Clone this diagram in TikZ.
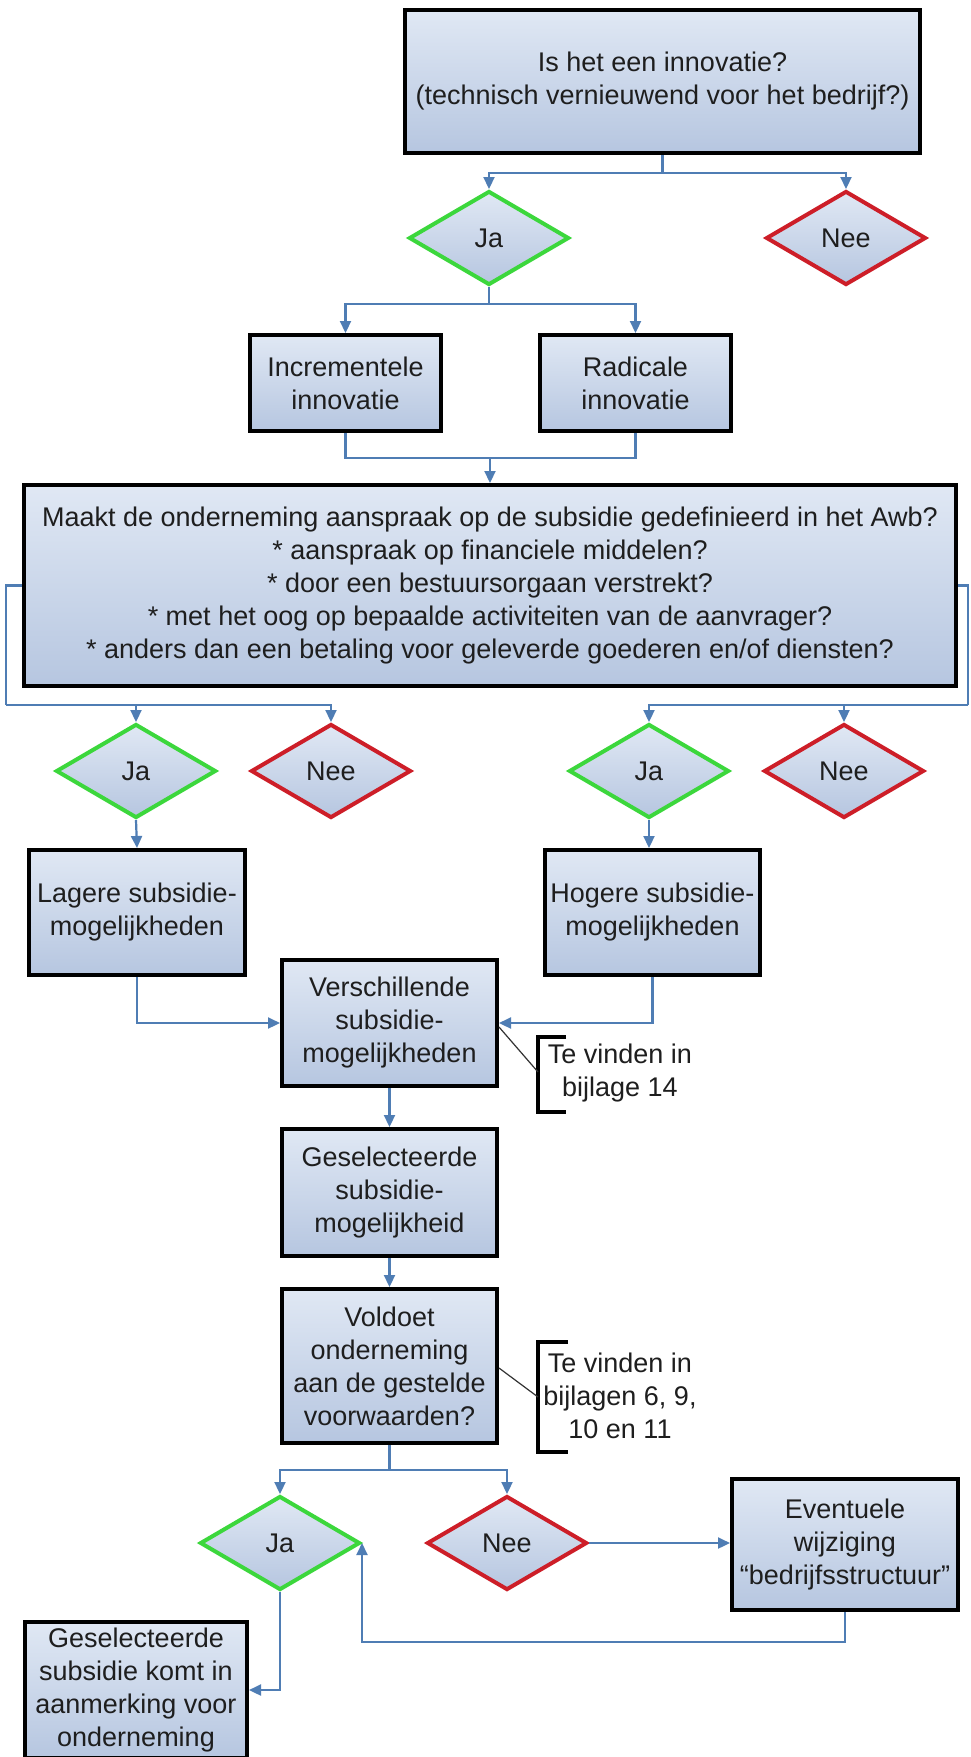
\documentclass[tikz,border=0pt]{standalone}
\usepackage{fontspec}
\setmainfont{Liberation Sans}
\usetikzlibrary{shapes.geometric,arrows.meta,calc}
\definecolor{conn}{RGB}{79,125,180}
\definecolor{boxtop}{RGB}{224,232,244}
\definecolor{boxbot}{RGB}{182,198,224}
\definecolor{jagreen}{RGB}{60,215,60}
\definecolor{neered}{RGB}{205,30,40}
\definecolor{txt}{RGB}{30,30,30}
\begin{document}
\begin{tikzpicture}[x=1pt,y=-1pt,
  every node/.style={font=\fontsize{27}{33}\selectfont, text=txt},
  box/.style={rectangle, draw=black, line width=4pt, top color=boxtop, bottom color=boxbot, align=center, inner sep=0pt},
  dia/.style={diamond, line width=4pt, top color=boxtop, bottom color=boxbot, inner sep=0pt, minimum width=160pt, minimum height=94pt},
  jadia/.style={dia, draw=jagreen},
  needia/.style={dia, draw=neered},
  conn/.style={draw=conn, line width=2.2pt},
  arr/.style={conn, -{Triangle[length=12pt,width=11pt]}},
  note/.style={align=center, inner sep=0pt},
  brk/.style={draw=black, line width=4pt},
  lead/.style={draw=black!80, line width=1.2pt}
]
\fill[white] (0,0) rectangle (970,1757);
\useasboundingbox (0,0) rectangle (970,1757);

% nodes
\node[box, minimum width=515pt, minimum height=143pt] (q1) at (662.5,81.5) {Is het een innovatie?\\(technisch vernieuwend voor het bedrijf?)};
\node[jadia] (ja1) at (489,238) {Ja};
\node[needia] (nee1) at (846,238) {Nee};
\node[box, minimum width=191pt, minimum height=96pt] (inc) at (345.5,383) {Incrementele\\innovatie};
\node[box, minimum width=191pt, minimum height=96pt] (rad) at (635.5,383) {Radicale\\innovatie};
\node[box, minimum width=932pt, minimum height=201pt] (awb) at (490,585.5) {Maakt de onderneming aanspraak op de subsidie gedefinieerd in het Awb?\\* aanspraak op financiele middelen?\\* door een bestuursorgaan verstrekt?\\* met het oog op bepaalde activiteiten van de aanvrager?\\* anders dan een betaling voor geleverde goederen en/of diensten?};
\node[jadia] (ja2) at (136,771) {Ja};
\node[needia] (nee2) at (331,771) {Nee};
\node[jadia] (ja3) at (649,771) {Ja};
\node[needia] (nee3) at (844,771) {Nee};
\node[box, minimum width=216pt, minimum height=125pt] (lag) at (137,912.5) {Lagere subsidie-\\mogelijkheden};
\node[box, minimum width=215pt, minimum height=125pt] (hog) at (652.5,912.5) {Hogere subsidie-\\mogelijkheden};
\node[box, minimum width=215pt, minimum height=126pt] (ver) at (389.5,1023) {Verschillende\\subsidie-\\mogelijkheden};
\node[box, minimum width=215pt, minimum height=127pt] (gesel) at (389.5,1192.5) {Geselecteerde\\subsidie-\\mogelijkheid};
\node[box, minimum width=215pt, minimum height=154pt] (vold) at (389.5,1366) {Voldoet\\onderneming\\aan de gestelde\\voorwaarden?};
\node[jadia] (ja4) at (280,1543) {Ja};
\node[needia] (nee4) at (507,1543) {Nee};
\node[box, minimum width=226pt, minimum height=131pt] (eve) at (845,1544.5) {Eventuele\\wijziging\\“bedrijfsstructuur”};
\node[box, minimum width=222pt, minimum height=136pt] (fin) at (136,1690) {Geselecteerde\\subsidie komt in\\aanmerking voor\\onderneming};

% notes
\node[note] (n1) at (620,1073) {Te vinden in\\bijlage 14};
\node[note] (n2) at (620,1396) {Te vinden in\\bijlagen 6, 9,\\10 en 11};
\coordinate (b1) at (538,1072);
\coordinate (b2) at (538,1397);
\draw[brk] (566,1037) -- (538,1037) -- (538,1112) -- (566,1112);
\draw[brk] (568,1342) -- (538,1342) -- (538,1452) -- (568,1452);
\draw[lead] (ver.east) ++(0,4) -- (b1);
\draw[lead] (vold.east) ++(0,2) -- (b2);

% connectors
\draw[conn] (q1.south) -- ++(0,18) coordinate (j1);
\draw[arr] (j1) -| (ja1.north);
\draw[arr] (j1) -| (nee1.north);

\draw[conn] (ja1.south) -- ++(0,17) coordinate (j2);
\draw[arr] (j2) -| (inc.north);
\draw[arr] (j2) -| (rad.north);

\draw[conn] (inc.south) -- ++(0,25) -| (rad.south);
\coordinate (m2) at (490,458);
\draw[arr] (m2) -- (awb.north);

\coordinate (lb) at (6,705);
\coordinate (rb) at (968,705);
\draw[conn] (awb.west) -| (lb);
\draw[conn] (awb.east) -| (rb);
\draw[arr] (lb) -| (ja2.north);
\draw[arr] (lb) -| (nee2.north);
\draw[arr] (rb) -| (nee3.north);
\draw[arr] (rb) -| (ja3.north);

\draw[arr] (ja2.south) -- (lag.north);
\draw[arr] (ja3.south) -- (ja3.south |- hog.north);
\draw[arr] (lag.south) |- (ver.west);
\draw[arr] (hog.south) |- (ver.east);
\draw[arr] (ver.south) -- (gesel.north);
\draw[arr] (gesel.south) -- (vold.north);

\draw[conn] (vold.south) -- ++(0,25) coordinate (j4);
\draw[arr] (j4) -| (ja4.north);
\draw[arr] (j4) -| (nee4.north);
\draw[arr] (nee4.east) -- (eve.west |- nee4.east);
\draw[arr] (eve.south) -- ++(0,30) -| (ja4.east);
\draw[arr] (ja4.south) |- (fin.east);
\end{tikzpicture}
\end{document}
